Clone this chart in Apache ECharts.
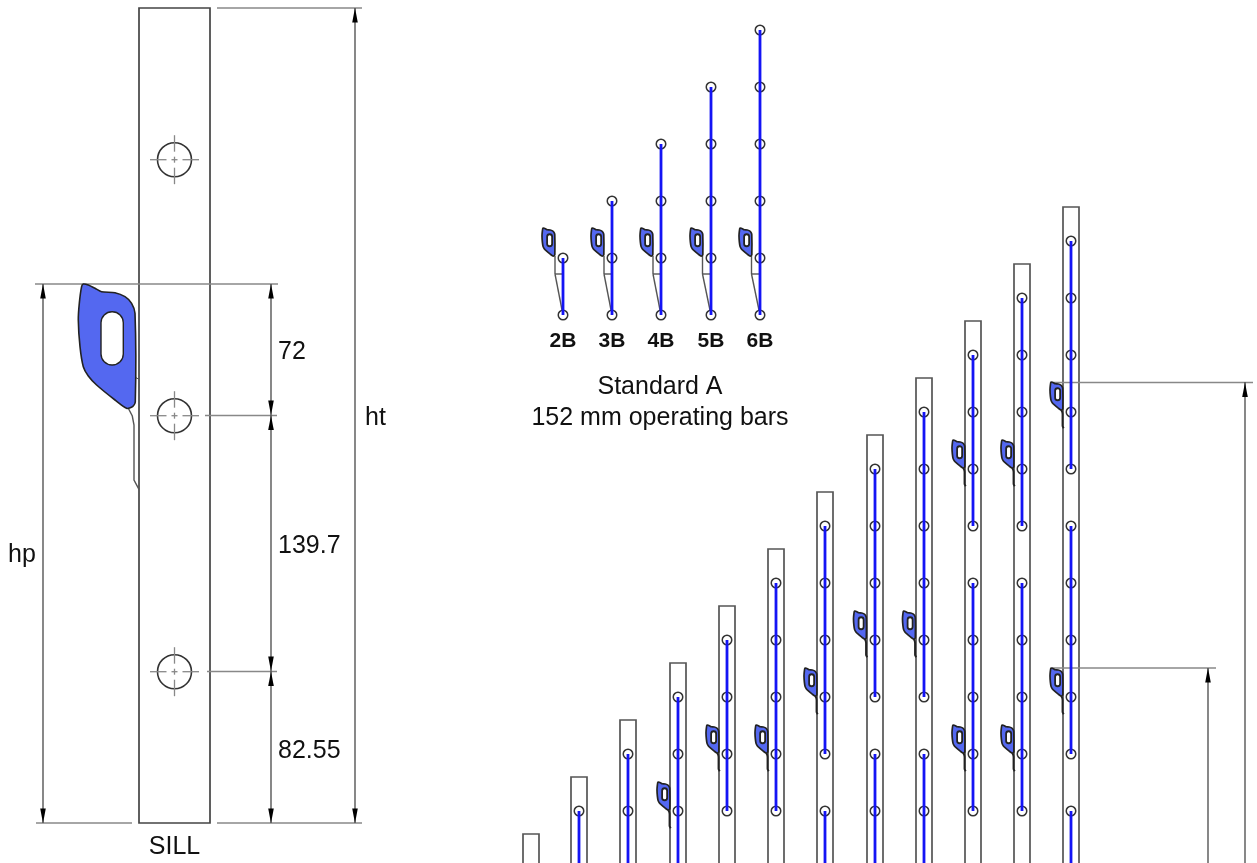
<!DOCTYPE html>
<html><head><meta charset="utf-8">
<style>html,body{margin:0;padding:0;background:#fff}#c{width:1257px;height:863px}</style>
<script src="https://cdn.jsdelivr.net/npm/echarts@6/dist/echarts.min.js"></script>
</head><body><div id="c"></div>
<script>
// rails: [centre x, top y]
const rails = [[531,834],[579,777],[628,720],[678,663],[727,606],[776,549],[825,492],[875,435],[924,378],[973,321],[1022,264],[1071,207]];
// pivot holes: x, then y list
const railHoles = [
 [579,[811]],[628,[754,811]],[678,[697,754,811]],[727,[640,697,754,811]],
 [776,[583,640,697,754,811]],[825,[526,583,640,697,754,811]],[875,[469,526,583,640,697,754,811]],
 [924,[412,469,526,583,640,697,754,811]],[973,[355,412,469,526,583,640,697,754,811]],
 [1022,[298,355,412,469,526,583,640,697,754,811]],[1071,[241,298,355,412,469,526,583,640,697,754,811]]
];
const standardHoles = [[563,[258,315]],[612,[201,258,315]],[661,[144,201,258,315]],[711,[87,144,201,258,315]],[760,[30,87,144,201,258,315]]];
// operating bars: [x, y1, y2]
const blueBars = [
 [579,811,870],[628,754,870],[678,697,870],[727,640,811],[776,583,811],[825,526,754],[825,811,870],
 [875,469,697],[875,754,870],[924,412,697],[924,754,870],[973,355,526],[973,583,811],
 [1022,298,526],[1022,583,811],[1071,241,469],[1071,526,754],[1071,811,870],
 [563,258,315],[612,201,315],[661,144,315],[711,87,315],[760,30,315]
];
// locks: [left, top, scale]
const bigLock = [[78.3,284,1]];
const railLocks = [[657,782,.225],[706,725,.225],[755,725,.225],[804,668,.225],[853.5,611,.225],[902.5,611,.225],[952,440,.225],[952,725,.225],[1001,440,.225],[1001,725,.225],[1050,382,.225],[1050,668,.225]];
const standardLocks = [[542,228,.225],[591,228,.225],[640,228,.225],[690,228,.225],[739,228,.225]];
const lockOutline = [[5,0],[10,1],[16.7,4.3],[23.3,7.7],[36.7,8.7],[46.7,12.7],[53.3,19.3],[56.7,29.3],[57,117.7],[54.3,122.7],[48.3,124.3],[36.7,116],[18.3,101],[10,92],[5,82.7],[1.7,62.7],[0,36],[1,19.3],[3.3,2.7]];
const lockSlot = [22.7,27.7,22.3,53.3,11];
const lockTail = [[50,124.3],[54,132],[55.7,141],[55.7,196],[60.7,205.3]];
const lockTick = [[57,93.3,60.7,95.3]];
// thin lines: [x1,y1,x2,y2]
const extensionLines = [
 [217,8,362,8],[217,823,362,823],[36,823,132,823],[35,284,278,284],[205,415.5,277,415.5],[207,671.5,277,671.5],
 [1052,382.5,1253,382.5],[1052,668,1216,668]
];
const dimLines = [[43,284,43,823],[271,284,271,415],[271,415,271,671],[271,671,271,823],[355,8,355,823],[1245,382,1245,863],[1208,668,1208,863]];
const sillRect = [139,8,210,823];
const bigHoles = [[174.5,159.7],[174.5,415.7],[174.5,671.7]];
const centreDash = [-24.5,-8,-3,3,8,24.5];
const standardLinks = [
 [555,256,555,274],[555,274,563,274],[555,274,563,315],[604,256,604,274],[604,274,612,274],[604,274,612,315],
 [653,256,653,274],[653,274,661,274],[653,274,661,315],[702.5,256,702.5,274],[702.5,274,711,274],[702.5,274,711,315],
 [751.5,256,751.5,274],[751.5,274,760,274],[751.5,274,760,315]
];
// arrows: [x, tip y, direction]
const arrows = [[43,284,1],[43,823,-1],[271,284,1],[271,415,-1],[271,415.5,1],[271,671,-1],[271,671.5,1],[271,823,-1],[355,8,1],[355,823,-1],[1245,382.5,1],[1208,668,1]];
const labels = [
 ['72',278,352,'left',25,'normal'],['139.7',278,546,'left',25,'normal'],['82.55',278,751,'left',25,'normal'],
 ['ht',365,418,'left',25,'normal'],['hp',8,555,'left',25,'normal'],['SILL',174.5,847,'center',25,'normal'],
 ['2B',563,341,'center',21,'bold'],['3B',612,341,'center',21,'bold'],['4B',661,341,'center',21,'bold'],['5B',711,341,'center',21,'bold'],['6B',760,341,'center',21,'bold'],
 ['Standard A',660,387,'center',25,'normal'],['152 mm operating bars',660,418,'center',25,'normal']
];

const LINE='#555', BLUE='#1414f5', LOCK='#5468f0';
const seg=(api,x1,y1,x2,y2,c,w)=>{const a=api.coord([x1,y1]),b=api.coord([x2,y2]);
 return {type:'line',shape:{x1:a[0],y1:a[1],x2:b[0],y2:b[1]},style:{stroke:c,lineWidth:w}};};
const custom=(data,renderItem,z)=>({type:'custom',coordinateSystem:'cartesian2d',data,renderItem,z,silent:true,animation:false,clip:true});

const renderRail=(p,api)=>{const x=api.value(0),t=api.value(1);const a=api.coord([x-8,t]),b=api.coord([x+8,880]);
 return {type:'rect',shape:{x:a[0],y:a[1],width:b[0]-a[0],height:b[1]-a[1]},style:{fill:'#fff',stroke:LINE,lineWidth:1.7}};};
const renderSill=(p,api)=>{const a=api.coord([api.value(0),api.value(1)]),b=api.coord([api.value(2),api.value(3)]);
 return {type:'rect',shape:{x:a[0],y:a[1],width:b[0]-a[0],height:b[1]-a[1]},style:{fill:'#fff',stroke:'#444',lineWidth:1.7}};};
const renderSeg=(c,w)=>(p,api)=>seg(api,api.value(0),api.value(1),api.value(2),api.value(3),c,w);
const renderBlue=(p,api)=>seg(api,api.value(0),api.value(1),api.value(0),api.value(2),BLUE,2.8);
const renderLock=(p,api)=>{const l=api.value(0),t=api.value(1),s=api.value(2);
 const pts=lockOutline.map(q=>api.coord([l+q[0]*s,t+q[1]*s]));
 const a=api.coord([l+lockSlot[0]*s,t+lockSlot[1]*s]);
 return {type:'group',children:[
  {type:'polygon',shape:{points:pts,smooth:.25},style:{fill:LOCK,stroke:'#222',lineWidth:s===1?1.6:1.7}},
  {type:'rect',shape:{x:a[0],y:a[1],width:lockSlot[2]*s,height:lockSlot[3]*s,r:lockSlot[4]*s},style:{fill:'#fff',stroke:'#222',lineWidth:s===1?1.4:1.8}}
 ]};};
const renderTail=(p,api)=>{const l=api.value(0),t=api.value(1),s=api.value(2);
 const pts=lockTail.map(q=>api.coord([l+q[0]*s,t+q[1]*s]));
 return {type:'polyline',shape:{points:pts},style:{fill:'none',stroke:s===1?'#555':'#222',lineWidth:s===1?1.4:1.9}};};
const renderBigHole=(p,api)=>{const x=api.value(0),y=api.value(1);const c=api.coord([x,y]);
 const kids=[{type:'circle',shape:{cx:c[0],cy:c[1],r:17},style:{fill:'none',stroke:'#333',lineWidth:1.6}}];
 for(let i=0;i<6;i+=2){
  kids.push(seg(api,x+centreDash[i],y,x+centreDash[i+1],y,'#888',1.3));
  kids.push(seg(api,x,y+centreDash[i],x,y+centreDash[i+1],'#888',1.3));
 }
 return {type:'group',children:kids};};
const renderArrow=(p,api)=>{const x=api.value(0),y=api.value(1),d=api.value(2);
 const pts=[api.coord([x,y]),api.coord([x-2.8,y+14.5*d]),api.coord([x+2.8,y+14.5*d])];
 return {type:'polygon',shape:{points:pts},style:{fill:'#000'}};};
const renderText=(p,api)=>{const L=labels[p.dataIndex];const c=api.coord([L[1],L[2]]);
 return {type:'text',x:c[0],y:c[1],style:{text:L[0],fill:'#111',align:L[3],verticalAlign:'middle',
  font:L[5]+' '+L[4]+'px "Liberation Sans", Arial, sans-serif'}};};
const holeSeries=(list,z)=>({type:'scatter',z,silent:true,animation:false,symbol:'circle',symbolSize:9.5,
 itemStyle:{color:'#fff',borderColor:'#333',borderWidth:1.5,opacity:1},
 data:list.flatMap(h=>h[1].map(y=>[h[0],y]))});

const chart=echarts.init(document.getElementById('c'),null,{width:1257,height:863});
chart.setOption({
 animation:false,backgroundColor:'#fff',
 grid:{left:0,top:0,width:1257,height:863,show:false},
 xAxis:{type:'value',min:0,max:1257,show:false,splitLine:{show:false}},
 yAxis:{type:'value',min:0,max:863,inverse:true,show:false,splitLine:{show:false}},
 tooltip:{show:false},
 series:[
  custom([sillRect],renderSill,1),
  custom(rails,renderRail,1),
  custom(extensionLines,renderSeg('#888',1.5),2),
  custom(dimLines,renderSeg('#555',1.4),2),
  custom(bigHoles,renderBigHole,3),
  holeSeries(railHoles,3),
  holeSeries(standardHoles,3),
  custom(standardLinks,renderSeg('#555',1.4),3),
  custom(blueBars,renderBlue,4),
  custom(bigLock.concat(railLocks),renderTail,5),
  custom(bigLock.concat(railLocks,standardLocks),renderLock,6),
  custom(bigLock.map(b=>[b[0]+lockTick[0][0],b[1]+lockTick[0][1],b[0]+lockTick[0][2],b[1]+lockTick[0][3]]),renderSeg('#555',1),5),
  custom(arrows,renderArrow,7),
  custom(labels.map(L=>[L[1],L[2]]),renderText,8)
 ]
});
</script></body></html>
